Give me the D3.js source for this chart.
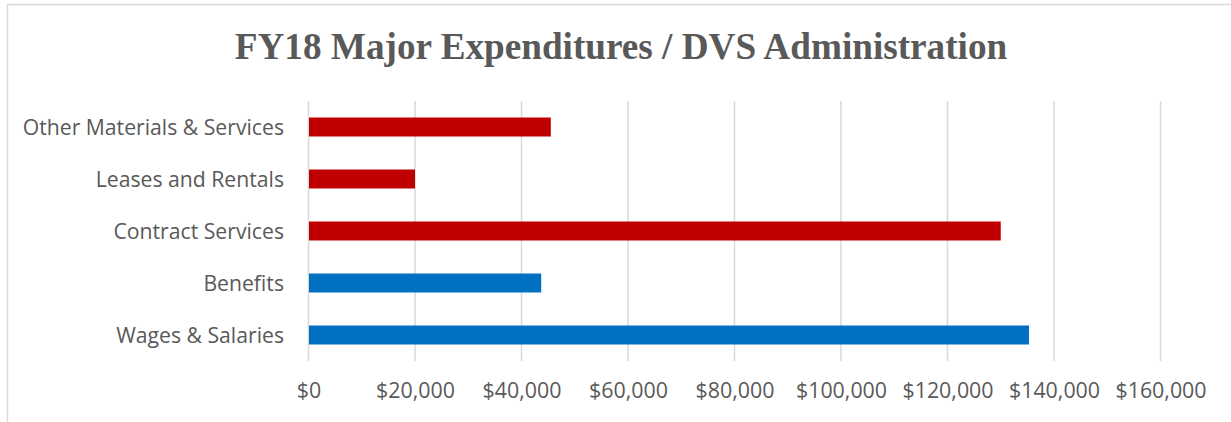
<!DOCTYPE html>
<html>
<head>
<meta charset="utf-8">
<script src="https://cdn.jsdelivr.net/npm/d3@7"></script>
<style>
  html, body { margin: 0; padding: 0; background: #ffffff; }
  svg { display: block; }
</style>
</head>
<body>
<svg id="chart" width="1231" height="422"></svg>
<script>
// ---- Data ----
const categories = ["Other Materials & Services", "Leases and Rentals", "Contract Services", "Benefits", "Wages & Salaries"];
const values = [45500, 20000, 130000, 43700, 135300];
const barColors = ["#C00000", "#C00000", "#C00000", "#0070C0", "#0070C0"];
const tickValues = [0, 20000, 40000, 60000, 80000, 100000, 120000, 140000, 160000];
const titleText = "FY18 Major Expenditures / DVS Administration";

// ---- Layout ----
const W = 1231, H = 422;
const plot = { left: 308.5, right: 1160.5, top: 101, bottom: 361 };

const svg = d3.select("#chart");

// chart border (cropped box)
svg.append("rect")
  .attr("x", 7.5).attr("y", 4.5)
  .attr("width", 1400).attr("height", 600)
  .attr("fill", "#ffffff")
  .attr("stroke", "#d9d9d9")
  .attr("stroke-width", 1.5);

const x = d3.scaleLinear().domain([0, 160000]).range([plot.left, plot.right]);
const y = d3.scaleBand().domain(categories).range([plot.top, plot.bottom]).paddingInner(0.635).paddingOuter(0.3175);

// gridlines
svg.append("g")
  .selectAll("line")
  .data(tickValues)
  .join("line")
  .attr("x1", d => x(d)).attr("x2", d => x(d))
  .attr("y1", plot.top).attr("y2", plot.bottom)
  .attr("stroke", "#d9d9d9")
  .attr("stroke-width", 1.5);

// bars
svg.append("g")
  .selectAll("rect")
  .data(categories)
  .join("rect")
  .attr("x", x(0) + 0.5)
  .attr("y", d => y(d))
  .attr("width", (d, i) => x(values[i]) - x(0) - 0.5)
  .attr("height", y.bandwidth())
  .attr("fill", (d, i) => barColors[i]);

// x axis labels
const fmt = d => "$" + d3.format(",")(d);
const xAxis = d3.axisBottom(x).tickValues(tickValues).tickFormat(fmt).tickSize(0).tickPadding(0);
const gx = svg.append("g").attr("transform", `translate(0, ${plot.bottom})`).call(xAxis);
gx.select(".domain").remove();
gx.selectAll("text")
  .attr("y", 37)
  .attr("dy", 0)
  .attr("fill", "#595959")
  .style("font-family", "'Open Sans', sans-serif")
  .style("font-size", "21.4px");

// y axis labels
const yAxis = d3.axisLeft(y).tickSize(0).tickPadding(0);
const gy = svg.append("g").attr("transform", `translate(284, 0)`).call(yAxis);
gy.select(".domain").remove();
gy.selectAll("text")
  .attr("x", 0)
  .attr("dy", "0.36em")
  .attr("fill", "#595959")
  .style("font-family", "'Open Sans', sans-serif")
  .style("font-size", "21.2px");

// title
svg.append("text")
  .attr("x", 621)
  .attr("y", 59)
  .attr("text-anchor", "middle")
  .attr("fill", "#595959")
  .style("font-family", "'Liberation Serif', 'Times New Roman', serif")
  .style("font-weight", "bold")
  .style("font-size", "37.2px")
  .text(titleText);
</script>
</body>
</html>
